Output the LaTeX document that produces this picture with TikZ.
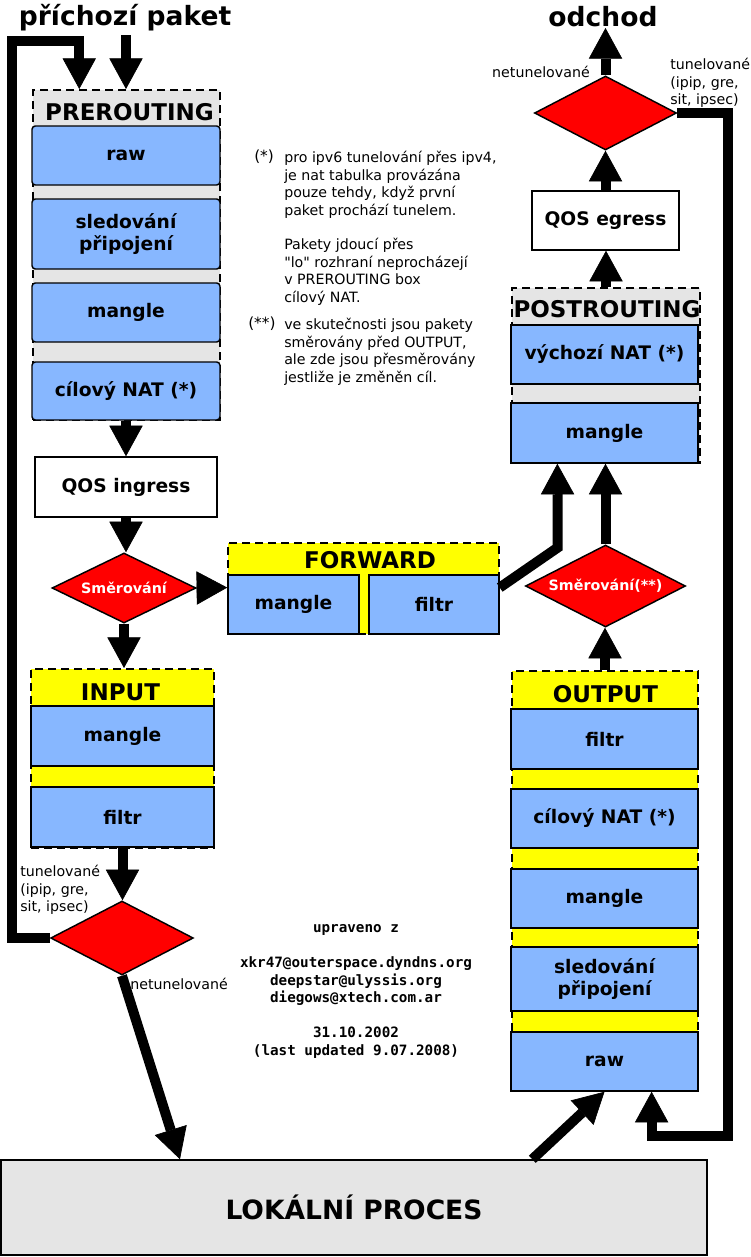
\documentclass[tikz,border=0pt]{standalone}
\usepackage{fontspec}
\setmainfont{DejaVu Sans}
\setmonofont{DejaVu Sans Mono}
\newfontfamily\plainq{DejaVu Sans}
\usetikzlibrary{arrows.meta,shapes.geometric,calc}
\definecolor{boxblue}{RGB}{135,183,255}
\definecolor{chgray}{RGB}{229,229,229}
\definecolor{chyellow}{RGB}{255,255,0}
\definecolor{dred}{RGB}{255,0,0}
\begin{document}
\begin{tikzpicture}[x=0.75pt,y=-0.75pt,
  pxbox/.style n args={4}{minimum width={(#3-(#1))*0.75pt}, minimum height={(#4-(#2))*0.75pt},
    at={({(#1+#3)/2},{(#2+#4)/2})}},
  blk/.style={draw=black, line width=1.1pt, fill=boxblue, inner sep=0pt, align=center,
    font=\fontsize{14}{16.5}\selectfont\bfseries},
  rblk/.style={blk, rounded corners=2.5pt},
  wbox/.style={blk, fill=white},
  stagebox/.style={draw=black, line width=1.5pt, dash pattern=on 6pt off 3.75pt, inner sep=0pt},
  ctitle/.style={font=\fontsize{17.25}{20}\selectfont\bfseries, inner sep=0pt, anchor=base},
  bigt/.style={font=\fontsize{19.9}{24}\selectfont\bfseries, inner sep=0pt, anchor=base},
  dia/.style={diamond, draw=black, line width=1.1pt, fill=dred, inner sep=0pt, text=white,
    aspect=2, font=\fontsize{10.7}{12}\selectfont\bfseries},
  heavy/.style={line width=7.5pt, -{Triangle[width=25pt,length=23pt,line width=0.5pt]}},
  note/.style={font=\fontsize{10.65}{13.1}\selectfont, inner sep=0pt, align=left},
  mono/.style={font=\fontsize{10.7}{13.2}\selectfont\ttfamily\bfseries, inner sep=0pt, align=center},
]
\fill[white] (0,0) rectangle (750,1257);
\useasboundingbox (0,0) rectangle (750,1257);

% titles
\node[bigt] (tin) at (125,25) {příchozí paket};
\node[bigt] (tout) at (603,26) {odchod};

% PREROUTING
\node[stagebox, fill=chgray, pxbox={33}{90}{220}{420}] (pre) {};
\node[ctitle] (pret) at (129.5,120) {PREROUTING};
\node[rblk, pxbox={32}{126}{220}{185}] (praw) {raw};
\node[rblk, pxbox={32}{199}{220}{269}] (pcon) {sledování\\připojení};
\node[rblk, pxbox={32}{283}{220}{342}] (pman) {mangle};
\node[rblk, pxbox={32}{362}{220}{420}] (pnat) {cílový NAT (*)};

% QOS ingress + routing
\node[wbox, pxbox={35}{457}{217}{517}] (qin) {QOS ingress};
\node[dia, minimum width=108pt, minimum height=52.5pt] (d1) at (124,588) {Směrování};

% INPUT
\node[stagebox, fill=chyellow, pxbox={31}{669}{214}{848}] (inp) {};
\node[ctitle] (inpt) at (120.5,700) {INPUT};
\node[blk, pxbox={31}{706}{214}{766}] (iman) {mangle};
\node[blk, pxbox={31}{787}{214}{847}] (ifil) {filtr};

\node[dia, minimum width=107pt, minimum height=55.5pt] (d2) at (122,938) {};

% FORWARD
\node[stagebox, fill=chyellow, pxbox={228}{543}{499}{634}] (fwd) {};
\node[ctitle] (fwdt) at (370,568) {FORWARD};
\node[blk, pxbox={228}{575}{359}{634}] (fman) {mangle};
\node[blk, pxbox={369}{575}{499}{634}] (ffil) {filtr};

% POSTROUTING
\node[stagebox, fill=chgray, pxbox={512}{288}{700}{463}] (post) {};
\node[ctitle] (postt) at (607,317) {POSTROUTING};
\node[blk, pxbox={511}{325}{698}{384}] (snat) {výchozí NAT (*)};
\node[blk, pxbox={511}{403}{698}{463}] (sman) {mangle};

\node[wbox, pxbox={532}{191}{679}{250}] (qout) {QOS egress};
\node[dia, minimum width=106.5pt, minimum height=55.5pt] (d3) at (605.5,113) {};
\node[dia, minimum width=120pt, minimum height=61.5pt] (d4) at (605.5,586) {Směrování(**)};

% OUTPUT
\node[stagebox, fill=chyellow, pxbox={512}{671}{698}{1091}] (out) {};
\node[ctitle] (outt) at (605.5,702) {OUTPUT};
\node[blk, pxbox={511}{709}{698}{769}] (ofil) {filtr};
\node[blk, pxbox={511}{789}{698}{848}] (onat) {cílový NAT (*)};
\node[blk, pxbox={511}{869}{698}{928}] (oman) {mangle};
\node[blk, pxbox={511}{947}{698}{1011}] (ocon) {sledování\\připojení};
\node[blk, pxbox={511}{1032}{698}{1091}] (oraw) {raw};

% local process
\node[draw=black, line width=1.1pt, fill=chgray, inner sep=0pt,
  font=\fontsize{19.9}{24}\selectfont\bfseries, pxbox={1}{1160}{707}{1255}] (lok) {LOKÁLNÍ PROCES};

% notes
\node[note, anchor=north west] (n1m) at (254,150) {\fontsize{11.5}{13.1}\selectfont(*)};
\node[note, anchor=north west] (n1) at (284,151) {pro ipv6 tunelování přes ipv4,\\je nat tabulka provázána\\pouze tehdy, když první\\paket prochází tunelem.\\[13.1pt]Pakety jdoucí přes\\{\plainq"}lo{\plainq"} rozhraní neprocházejí\\v PREROUTING box\\cílový NAT.};
\node[note, anchor=north west] (n2m) at (248,317) {\fontsize{11.5}{13.1}\selectfont(**)};
\node[note, anchor=north west] (n2) at (284,318) {ve skutečnosti jsou pakety\\směrovány před OUTPUT,\\ale zde jsou přesměrovány\\jestliže je změněn cíl.};

\node[mono, anchor=north] (cred) at (356,924) {upraveno z\\[13.2pt]xkr47@outerspace.dyndns.org\\deepstar@ulyssis.org\\diegows@xtech.com.ar\\[13.2pt]31.10.2002\\(last updated 9.07.2008)};

% labels
\node[note, anchor=base east] (l1) at (590,77) {netunelované};
\node[note, anchor=north west] (l2) at (670,58) {tunelované\\(ipip, gre,\\sit, ipsec)};
\node[note, anchor=north west] (l3) at (20,865) {tunelované\\(ipip, gre,\\sit, ipsec)};
\node[note, anchor=base west] (l4) at (130,989) {netunelované};

% connectors
\coordinate (inA) at (126,35);
\coordinate (outTop) at (605.5,28);
\draw[heavy] (inA) -- (inA |- pre.north);
\draw[heavy] (d2.west) -| (12,41) -| ($(pre.north west)!0.25!(pre.north east)$);
\draw[heavy] (pnat.south) -- (pnat.south |- qin.north);
\draw[heavy] (qin.south) -- (qin.south |- d1.north);
\draw[heavy] (d1.east) -- ($(fman.north west)!0.22!(fman.south west)$);
\draw[heavy] (d1.south) -- (d1.south |- inp.north);
\draw[heavy] (ifil.south) -- (ifil.south |- d2.north);
\draw[heavy] (d2.south) -- ($(lok.north west)!0.254!(lok.north east)$);

\draw[heavy] ($(ffil.north east)!0.22!(ffil.south east)$) -- ++(58,-40) -- ($(sman.south west)!0.25!(sman.south east)$);
\draw[heavy] (d4.north) -- (d4.north |- sman.south);
\draw[heavy] (out.north) -- (out.north |- d4.south);
\draw[heavy] (post.north) -- (post.north |- qout.south);
\draw[heavy] (qout.north) -- (qout.north |- d3.south);
\draw[heavy] (d3.north) -- (outTop);
\draw[heavy] (d3.east) -| (728,1136) -| ($(oraw.south west)!0.75!(oraw.south east)$);
\draw[heavy] ($(lok.north west)!0.752!(lok.north east)$) -- (oraw.south);
\end{tikzpicture}
\end{document}
